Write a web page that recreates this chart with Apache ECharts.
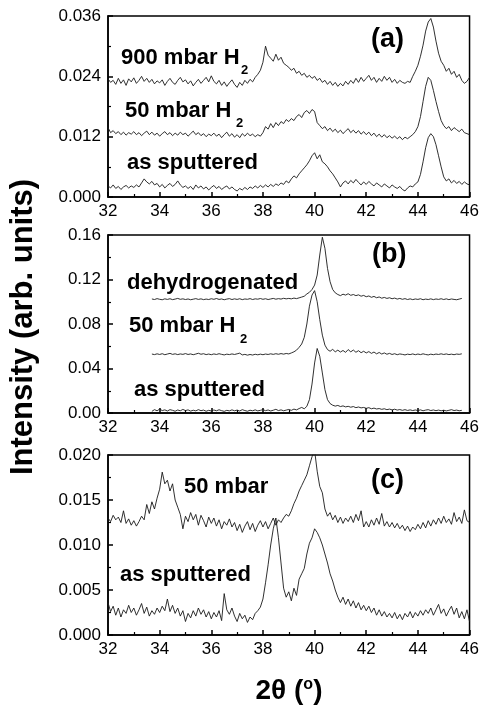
<!DOCTYPE html>
<html>
<head>
<meta charset="utf-8">
<script src="https://cdn.jsdelivr.net/npm/echarts@6/dist/echarts.min.js"></script>
<style>html,body{margin:0;padding:0;background:#fff}#chart{width:482px;height:711px}</style>
</head>
<body>
<div id="chart"></div>
<script>
// 2θ grid (degrees)
const twoTheta = [
32.0,32.1,32.2,32.3,32.4,32.5,32.6,32.7,32.8,32.9,
33.0,33.1,33.2,33.3,33.4,33.5,33.6,33.7,33.8,33.9,
34.0,34.1,34.2,34.3,34.4,34.5,34.6,34.7,34.8,34.9,
35.0,35.1,35.2,35.3,35.4,35.5,35.6,35.7,35.8,35.9,
36.0,36.1,36.2,36.3,36.4,36.5,36.6,36.7,36.8,36.9,
37.0,37.1,37.2,37.3,37.4,37.5,37.6,37.7,37.8,37.9,
38.0,38.1,38.2,38.3,38.4,38.5,38.6,38.7,38.8,38.9,
39.0,39.1,39.2,39.3,39.4,39.5,39.6,39.7,39.8,39.9,
40.0,40.1,40.2,40.3,40.4,40.5,40.6,40.7,40.8,40.9,
41.0,41.1,41.2,41.3,41.4,41.5,41.6,41.7,41.8,41.9,
42.0,42.1,42.2,42.3,42.4,42.5,42.6,42.7,42.8,42.9,
43.0,43.1,43.2,43.3,43.4,43.5,43.6,43.7,43.8,43.9,
44.0,44.1,44.2,44.3,44.4,44.5,44.6,44.7,44.8,44.9,
45.0,45.1,45.2,45.3,45.4,45.5,45.6,45.7,45.8,45.9,
46.0];
// panel (b) measured range 33.7 .. 45.7
const twoThetaB = twoTheta.slice(17, 138);

// ---- panel (a) ----
const a900 = [
0.0235,0.0228,0.0232,0.0224,0.0236,0.0226,0.0233,0.0222,0.0235,0.0229,
0.0237,0.0226,0.0232,0.0240,0.0230,0.0236,0.0228,0.0234,0.0225,0.0231,
0.0227,0.0233,0.0222,0.0230,0.0236,0.0228,0.0224,0.0232,0.0238,0.0229,
0.0233,0.0225,0.0231,0.0221,0.0228,0.0234,0.0226,0.0232,0.0238,0.0229,
0.0241,0.0230,0.0225,0.0232,0.0222,0.0229,0.0220,0.0227,0.0233,0.0224,
0.0218,0.0228,0.0222,0.0232,0.0226,0.0234,0.0229,0.0238,0.0244,0.0252,
0.0268,0.0300,0.0282,0.0276,0.0270,0.0284,0.0272,0.0278,0.0266,0.0262,
0.0258,0.0252,0.0256,0.0246,0.0250,0.0242,0.0246,0.0238,0.0242,0.0236,
0.0240,0.0232,0.0236,0.0228,0.0232,0.0224,0.0230,0.0222,0.0228,0.0220,
0.0226,0.0221,0.0230,0.0224,0.0232,0.0226,0.0236,0.0228,0.0238,0.0230,
0.0236,0.0242,0.0232,0.0238,0.0228,0.0236,0.0230,0.0240,0.0232,0.0238,
0.0228,0.0234,0.0226,0.0232,0.0228,0.0226,0.0230,0.0228,0.0240,0.0250,
0.0262,0.0280,0.0302,0.0330,0.0348,0.0355,0.0338,0.0310,0.0286,0.0270,
0.0262,0.0250,0.0256,0.0244,0.0250,0.0238,0.0244,0.0232,0.0226,0.0230,
0.0238];
const a50 = [
0.0138,0.0128,0.0132,0.0126,0.0130,0.0124,0.0129,0.0123,0.0128,0.0125,
0.0130,0.0124,0.0128,0.0122,0.0127,0.0131,0.0124,0.0129,0.0123,0.0127,
0.0121,0.0126,0.0130,0.0124,0.0128,0.0122,0.0127,0.0123,0.0129,0.0124,
0.0127,0.0121,0.0126,0.0131,0.0124,0.0128,0.0122,0.0126,0.0120,0.0125,
0.0122,0.0127,0.0121,0.0125,0.0118,0.0124,0.0129,0.0121,0.0126,0.0119,
0.0124,0.0118,0.0126,0.0121,0.0127,0.0122,0.0125,0.0120,0.0124,0.0121,
0.0128,0.0140,0.0135,0.0146,0.0138,0.0148,0.0142,0.0150,0.0146,0.0154,
0.0150,0.0156,0.0152,0.0160,0.0164,0.0158,0.0168,0.0172,0.0166,0.0174,
0.0170,0.0148,0.0142,0.0136,0.0140,0.0132,0.0137,0.0130,0.0135,0.0128,
0.0133,0.0126,0.0131,0.0136,0.0128,0.0133,0.0127,0.0132,0.0125,0.0130,
0.0124,0.0129,0.0122,0.0127,0.0120,0.0125,0.0119,0.0124,0.0118,0.0122,
0.0117,0.0121,0.0116,0.0120,0.0114,0.0119,0.0116,0.0120,0.0124,0.0130,
0.0140,0.0160,0.0190,0.0220,0.0238,0.0232,0.0212,0.0190,0.0170,0.0152,
0.0142,0.0136,0.0140,0.0132,0.0138,0.0134,0.0130,0.0135,0.0128,0.0126,
0.0124];
const aAs = [
0.0022,0.0018,0.0024,0.0017,0.0021,0.0015,0.0020,0.0023,0.0018,0.0022,
0.0019,0.0024,0.0020,0.0028,0.0036,0.0030,0.0026,0.0031,0.0024,0.0027,
0.0020,0.0025,0.0018,0.0023,0.0027,0.0021,0.0025,0.0032,0.0024,0.0019,
0.0022,0.0017,0.0021,0.0015,0.0024,0.0018,0.0022,0.0016,0.0020,0.0014,
0.0019,0.0023,0.0017,0.0021,0.0015,0.0019,0.0022,0.0016,0.0020,0.0015,
0.0012,0.0017,0.0014,0.0019,0.0015,0.0020,0.0017,0.0022,0.0018,0.0023,
0.0019,0.0024,0.0020,0.0025,0.0021,0.0026,0.0023,0.0028,0.0025,0.0032,
0.0028,0.0036,0.0042,0.0038,0.0046,0.0052,0.0058,0.0064,0.0072,0.0082,
0.0088,0.0076,0.0084,0.0070,0.0066,0.0060,0.0052,0.0046,0.0038,0.0030,
0.0020,0.0028,0.0032,0.0026,0.0033,0.0028,0.0035,0.0029,0.0024,0.0030,
0.0025,0.0031,0.0026,0.0022,0.0028,0.0024,0.0020,0.0026,0.0022,0.0018,
0.0024,0.0020,0.0017,0.0021,0.0015,0.0012,0.0018,0.0022,0.0020,0.0026,
0.0030,0.0045,0.0070,0.0098,0.0118,0.0126,0.0120,0.0104,0.0082,0.0060,
0.0040,0.0032,0.0036,0.0028,0.0033,0.0027,0.0031,0.0025,0.0030,0.0026,
0.0024];

// ---- panel (b) ---- (33.7 .. 45.7)
const bDehyd = [
0.1025,0.1020,0.1028,
0.1022,0.1018,0.1026,0.1021,0.1027,0.1019,0.1024,0.1030,0.1022,0.1026,
0.1020,0.1025,0.1018,0.1023,0.1028,0.1021,0.1026,0.1019,0.1024,0.1020,
0.1027,0.1022,0.1029,0.1021,0.1025,0.1018,0.1024,0.1028,0.1020,0.1026,
0.1021,0.1027,0.1019,0.1025,0.1022,0.1028,0.1020,0.1026,0.1023,0.1029,
0.1022,0.1027,0.1020,0.1025,0.1030,0.1023,0.1028,0.1024,0.1031,0.1026,
0.1030,0.1026,0.1033,0.1028,0.1035,0.1042,0.1050,0.1070,0.1085,0.1110,
0.1150,0.1240,0.1420,0.1580,0.1480,0.1300,0.1180,0.1110,0.1080,0.1065,
0.1055,0.1068,0.1060,0.1072,0.1058,0.1065,0.1055,0.1062,0.1050,0.1057,
0.1045,0.1052,0.1040,0.1048,0.1036,0.1043,0.1032,0.1039,0.1030,0.1036,
0.1027,0.1033,0.1024,0.1030,0.1022,0.1028,0.1020,0.1026,0.1019,0.1025,
0.1021,0.1027,0.1018,0.1024,0.1020,0.1026,0.1019,0.1025,0.1021,0.1027,
0.1020,0.1026,0.1019,0.1025,0.1021,0.1018,0.1024,0.1030];
const b50 = [
0.0530,0.0525,0.0532,
0.0526,0.0533,0.0524,0.0530,0.0536,0.0527,0.0532,0.0525,0.0531,0.0527,
0.0534,0.0526,0.0531,0.0524,0.0530,0.0537,0.0528,0.0533,0.0525,0.0530,
0.0524,0.0531,0.0526,0.0533,0.0527,0.0522,0.0529,0.0525,0.0531,0.0526,
0.0532,0.0538,0.0522,0.0527,0.0520,0.0526,0.0521,0.0528,0.0523,0.0529,
0.0524,0.0530,0.0526,0.0532,0.0527,0.0533,0.0528,0.0534,0.0529,0.0535,
0.0531,0.0540,0.0550,0.0565,0.0590,0.0620,0.0680,0.0800,0.0960,0.1060,
0.1100,0.1000,0.0840,0.0700,0.0610,0.0570,0.0555,0.0572,0.0550,0.0565,
0.0548,0.0562,0.0545,0.0570,0.0550,0.0566,0.0546,0.0560,0.0542,0.0555,
0.0540,0.0552,0.0536,0.0548,0.0532,0.0544,0.0530,0.0540,0.0528,0.0536,
0.0526,0.0533,0.0524,0.0531,0.0527,0.0522,0.0529,0.0525,0.0531,0.0524,
0.0530,0.0525,0.0532,0.0526,0.0522,0.0529,0.0524,0.0530,0.0526,0.0532,
0.0526,0.0531,0.0525,0.0529,0.0524,0.0530,0.0527,0.0532];
const bAs = [
0.0015,0.0030,0.0020,
0.0035,0.0022,0.0028,0.0018,0.0030,0.0024,0.0016,0.0027,0.0020,0.0032,
0.0022,0.0028,0.0017,0.0025,0.0019,0.0030,0.0021,0.0026,0.0016,0.0024,
0.0018,0.0027,0.0020,0.0029,0.0021,0.0015,0.0024,0.0019,0.0028,0.0020,
0.0026,0.0018,0.0030,0.0022,0.0016,0.0025,0.0020,0.0028,0.0019,0.0024,
0.0030,0.0021,0.0027,0.0018,0.0025,0.0033,0.0022,0.0028,0.0020,0.0026,
0.0032,0.0024,0.0035,0.0028,0.0040,0.0050,0.0038,0.0060,0.0120,0.0260,
0.0450,0.0580,0.0510,0.0360,0.0210,0.0120,0.0085,0.0070,0.0062,0.0068,
0.0058,0.0064,0.0055,0.0060,0.0052,0.0058,0.0048,0.0054,0.0046,0.0050,
0.0042,0.0048,0.0038,0.0044,0.0036,0.0040,0.0033,0.0038,0.0030,0.0035,
0.0028,0.0034,0.0026,0.0031,0.0024,0.0030,0.0023,0.0028,0.0022,0.0027,
0.0022,0.0028,0.0020,0.0026,0.0030,0.0022,0.0027,0.0021,0.0026,0.0020,
0.0025,0.0019,0.0024,0.0030,0.0022,0.0026,0.0020,0.0024];

// ---- panel (c) ----
const c50 = [
0.0130,0.0126,0.0133,0.0128,0.0131,0.0125,0.0138,0.0124,0.0129,0.0122,
0.0127,0.0121,0.0126,0.0132,0.0128,0.0145,0.0135,0.0148,0.0140,0.0152,
0.0162,0.0181,0.0168,0.0172,0.0160,0.0168,0.0150,0.0142,0.0134,0.0118,
0.0132,0.0126,0.0136,0.0128,0.0134,0.0122,0.0133,0.0127,0.0120,0.0131,
0.0124,0.0130,0.0121,0.0128,0.0118,0.0126,0.0122,0.0129,0.0120,0.0125,
0.0116,0.0123,0.0114,0.0121,0.0126,0.0117,0.0124,0.0115,0.0122,0.0127,
0.0120,0.0126,0.0118,0.0124,0.0130,0.0122,0.0128,0.0125,0.0130,0.0134,
0.0132,0.0138,0.0146,0.0152,0.0160,0.0166,0.0172,0.0178,0.0188,0.0198,
0.0205,0.0182,0.0165,0.0158,0.0140,0.0132,0.0136,0.0128,0.0133,0.0125,
0.0131,0.0124,0.0130,0.0126,0.0132,0.0125,0.0134,0.0127,0.0138,0.0120,
0.0126,0.0120,0.0128,0.0122,0.0130,0.0123,0.0135,0.0121,0.0126,0.0120,
0.0125,0.0119,0.0124,0.0118,0.0122,0.0116,0.0121,0.0115,0.0120,0.0117,
0.0123,0.0118,0.0125,0.0119,0.0127,0.0121,0.0128,0.0123,0.0130,0.0124,
0.0132,0.0125,0.0129,0.0123,0.0136,0.0126,0.0131,0.0124,0.0139,0.0127,
0.0125];
const cAs = [
0.0036,0.0026,0.0032,0.0022,0.0030,0.0020,0.0028,0.0024,0.0033,0.0025,
0.0030,0.0022,0.0028,0.0035,0.0024,0.0031,0.0021,0.0027,0.0023,0.0030,
0.0025,0.0032,0.0027,0.0040,0.0026,0.0033,0.0024,0.0030,0.0021,0.0027,
0.0015,0.0024,0.0019,0.0027,0.0021,0.0030,0.0023,0.0028,0.0020,0.0026,
0.0018,0.0025,0.0020,0.0027,0.0016,0.0046,0.0028,0.0023,0.0030,0.0021,
0.0015,0.0024,0.0018,0.0022,0.0014,0.0020,0.0017,0.0024,0.0027,0.0031,
0.0040,0.0058,0.0078,0.0100,0.0118,0.0130,0.0108,0.0080,0.0052,0.0042,
0.0048,0.0038,0.0052,0.0044,0.0062,0.0068,0.0074,0.0090,0.0102,0.0108,
0.0118,0.0114,0.0108,0.0100,0.0090,0.0080,0.0068,0.0060,0.0050,0.0042,
0.0036,0.0042,0.0034,0.0040,0.0032,0.0038,0.0030,0.0036,0.0028,0.0033,
0.0027,0.0032,0.0025,0.0030,0.0022,0.0028,0.0021,0.0026,0.0020,0.0024,
0.0019,0.0025,0.0018,0.0023,0.0017,0.0024,0.0020,0.0026,0.0019,0.0025,
0.0021,0.0027,0.0022,0.0028,0.0024,0.0030,0.0022,0.0028,0.0034,0.0024,
0.0029,0.0021,0.0027,0.0032,0.0023,0.0030,0.0019,0.0026,0.0018,0.0028,
0.0015];

// axis settings per panel
const yMax = [0.036, 0.16, 0.020];
const yStep = [0.012, 0.04, 0.005];
const yDigits = [3, 2, 3];
const xMin = 32, xMax = 46, xStep = 2;

const FONT = '"Liberation Sans", Arial, Helvetica, sans-serif';
const grids = [
  {left: 108, top: 16, width: 362, height: 181},
  {left: 108, top: 235, width: 362, height: 178},
  {left: 108, top: 455, width: 362, height: 180}
];

function pairs(xs, ys) { return ys.map((v, i) => [xs[i], v]); }

const xAxes = grids.map((g, i) => ({
  type: 'value', gridIndex: i, min: xMin, max: xMax, interval: xStep,
  axisLine: {show: true, lineStyle: {color: '#000', width: 1.5}},
  axisTick: {show: true, inside: true, length: 5, lineStyle: {color: '#000', width: 1.5}},
  minorTick: {show: true, splitNumber: 2, length: 3, lineStyle: {color: '#000', width: 1.2}},
  splitLine: {show: false},
  axisLabel: {color: '#000', fontSize: 17, fontFamily: FONT, margin: 6, showMinLabel: true, showMaxLabel: true}
}));
const yAxes = grids.map((g, i) => ({
  type: 'value', gridIndex: i, min: 0, max: yMax[i], interval: yStep[i],
  axisLine: {show: true, lineStyle: {color: '#000', width: 1.5}},
  axisTick: {show: true, inside: true, length: 5, lineStyle: {color: '#000', width: 1.5}},
  minorTick: {show: true, splitNumber: 2, length: 3, lineStyle: {color: '#000', width: 1.2}},
  splitLine: {show: false},
  axisLabel: {color: '#000', fontSize: 17, fontFamily: FONT, margin: 7,
    showMinLabel: true, showMaxLabel: true,
    formatter: v => v.toFixed(yDigits[i])}
}));

const lineStyle = {color: '#1a1a1a', width: 0.9};
function ser(idx, data) {
  return {type: 'line', xAxisIndex: idx, yAxisIndex: idx, data: data,
    showSymbol: false, symbol: 'none', lineStyle: lineStyle, clip: true,
    animation: false, silent: true, connectNulls: false};
}

function label(text, x, y, size) {
  return {type: 'text', x: x, y: y, silent: true,
    style: {text: text, font: 'bold ' + size + 'px ' + FONT, fill: '#000',
      textAlign: 'left', textVerticalAlign: 'middle'}};
}

const option = {
  backgroundColor: '#fff',
  animation: false,
  grid: grids.map(g => Object.assign({show: true, borderColor: '#000', borderWidth: 1.5, backgroundColor: 'transparent'}, g)),
  xAxis: xAxes,
  yAxis: yAxes,
  series: [
    ser(0, pairs(twoTheta, a900)),
    ser(0, pairs(twoTheta, a50)),
    ser(0, pairs(twoTheta, aAs)),
    ser(1, pairs(twoThetaB, bDehyd)),
    ser(1, pairs(twoThetaB, b50)),
    ser(1, pairs(twoThetaB, bAs)),
    ser(2, pairs(twoTheta, c50)),
    ser(2, pairs(twoTheta, cAs))
  ],
  graphic: [
    // panel (a)
    label('(a)', 371, 40, 27),
    label('900 mbar H', 121, 58, 22),
    label('2', 241, 70, 13),
    label('50 mbar H', 125, 111, 22),
    label('2', 236, 123, 13),
    label('as sputtered', 127, 163, 22),
    // panel (b)
    label('(b)', 372, 255, 27),
    label('dehydrogenated', 127, 283, 22),
    label('50 mbar H', 129, 326, 22),
    label('2', 240, 339, 13),
    label('as sputtered', 134, 390, 22),
    // panel (c)
    label('(c)', 371, 481, 27),
    label('50 mbar', 184, 487, 22),
    label('as sputtered', 120, 575, 22),
    // axis titles
    {type: 'text', x: 23, y: 327, rotation: Math.PI / 2, silent: true,
      style: {text: 'Intensity (arb. units)', font: 'bold 31px ' + FONT, fill: '#000',
        textAlign: 'center', textVerticalAlign: 'middle'}},
    {type: 'text', x: 289, y: 691, silent: true,
      style: {text: '{a|2θ (}{s|o}{a|)}', fill: '#000', textAlign: 'center', textVerticalAlign: 'middle',
        rich: {
          a: {font: 'bold 28px ' + FONT, fill: '#000', verticalAlign: 'bottom'},
          s: {font: 'bold 16px ' + FONT, fill: '#000', verticalAlign: 'top'}
        }}}
  ]
};

const chart = echarts.init(document.getElementById('chart'), null, {renderer: 'canvas'});
chart.setOption(option);
</script>
</body>
</html>
